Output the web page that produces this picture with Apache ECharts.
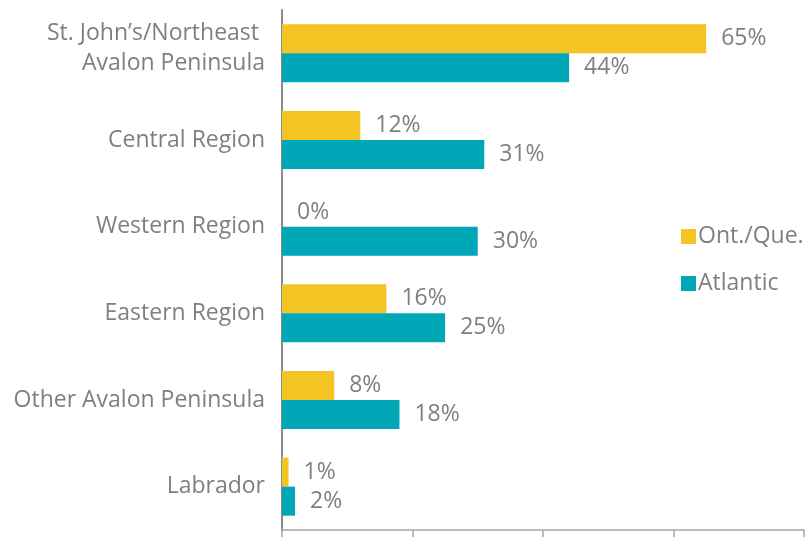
<!DOCTYPE html>
<html>
<head>
<meta charset="utf-8">
<script src="https://cdn.jsdelivr.net/npm/echarts@6/dist/echarts.min.js"></script>
<style>
  html, body { margin: 0; padding: 0; background: #fff; }
  #main { width: 809px; height: 537px; }
</style>
</head>
<body>
<div id="main"></div>
<script>
// categories (top to bottom)
var regions = [
  'St. John\u2019s/Northeast \nAvalon Peninsula',
  'Central Region',
  'Western Region',
  'Eastern Region',
  'Other Avalon Peninsula',
  'Labrador'
];
var ontQue = [65, 12, 0, 16, 8, 1];
var atlantic = [44, 31, 30, 25, 18, 2];

var chart = echarts.init(document.getElementById('main'));
var textGray = '#7f7f7f';
var font = 'Open Sans';
var fs = 23;

var option = {
  animation: false,
  grid: { left: 282, right: 5, top: 10, bottom: 7, containLabel: false },
  legend: {
    orient: 'vertical',
    left: 676,
    top: 220,
    icon: 'rect',
    itemWidth: 15,
    itemHeight: 15,
    itemGap: 24,
    textStyle: { color: textGray, fontSize: fs, fontFamily: font, padding: [0, 0, 0, -3] },
    data: ['Ont./Que.', 'Atlantic']
  },
  xAxis: {
    type: 'value',
    min: 0,
    max: 80,
    interval: 20,
    axisLabel: { show: false },
    splitLine: { show: false },
    axisLine: { show: true, lineStyle: { color: '#a6a6a6', width: 1.5 } },
    axisTick: { show: true, length: 8, lineStyle: { color: '#a6a6a6', width: 1.5 } }
  },
  yAxis: {
    type: 'category',
    inverse: true,
    data: regions,
    axisTick: { show: false },
    axisLine: { show: true, lineStyle: { color: '#8c8c8c', width: 2 } },
    axisLabel: {
      color: textGray,
      fontSize: fs,
      fontFamily: font,
      margin: 17,
      lineHeight: 30,
      align: 'right',
      formatter: function (v) {
        var parts = v.split('\n');
        // two-line label sits a little above the band centre
        return parts.length > 1 ? '{ln|' + parts[0] + '}\n{ln|' + parts[1] + '}\n{sp| }' : v;
      },
      rich: {
        ln: { color: textGray, fontSize: fs, fontFamily: font, lineHeight: 30 },
        sp: { fontSize: 1, lineHeight: 9 }
      }
    }
  },
  series: [
    {
      name: 'Ont./Que.',
      type: 'bar',
      data: ontQue,
      barGap: '0%',
      barCategoryGap: '33%',
      itemStyle: { color: '#f4c324' },
      label: {
        show: true,
        position: 'right',
        distance: 15,
        formatter: '{c}%',
        color: textGray,
        fontSize: fs,
        fontFamily: font
      }
    },
    {
      name: 'Atlantic',
      type: 'bar',
      data: atlantic,
      barGap: '0%',
      barCategoryGap: '33%',
      itemStyle: { color: '#00a7b6' },
      label: {
        show: true,
        position: 'right',
        distance: 15,
        formatter: '{c}%',
        color: textGray,
        fontSize: fs,
        fontFamily: font
      }
    }
  ]
};

chart.setOption(option);
</script>
</body>
</html>
